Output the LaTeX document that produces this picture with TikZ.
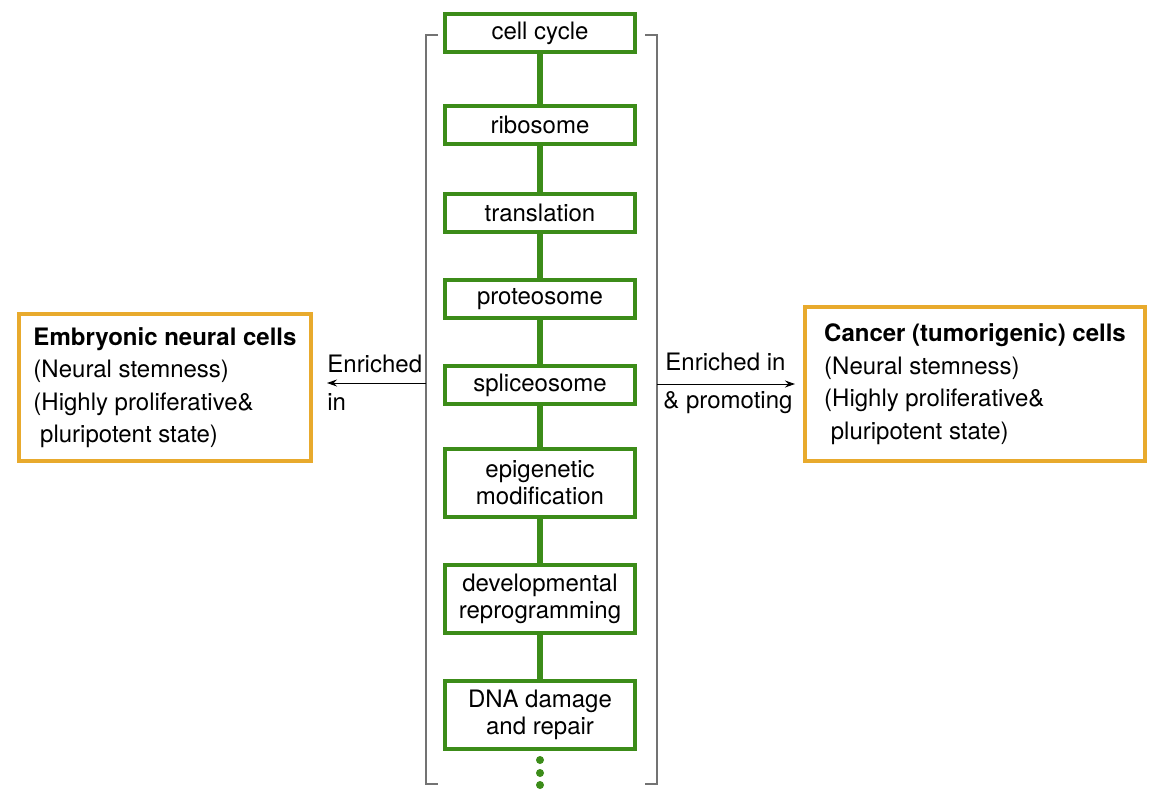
\documentclass[tikz,border=0pt]{standalone}
\usepackage{fontspec}
\setmainfont{TeX Gyre Heros}
\usetikzlibrary{arrows.meta}
\definecolor{pathgreen}{RGB}{60,140,25}
\definecolor{cellorange}{RGB}{232,170,45}

\begin{document}
\begin{tikzpicture}[x=0.5pt,y=-0.5pt,
        pathbox/.style={draw=pathgreen, line width=2pt, minimum width=95pt, minimum height=19pt, align=center, font=\fontsize{12}{13.5}\selectfont},
        tallbox/.style={pathbox, minimum height=34pt},
        cellbox/.style={draw=cellorange, line width=2pt, align=left, font=\fontsize{12}{16.25}\selectfont},
        link/.style={pathgreen, line width=3pt},
        brack/.style={black!55, line width=0.7pt},
        arr/.style={-{Stealth[length=5pt,width=3.5pt]}, line width=0.5pt},
        lbl/.style={anchor=base west, inner sep=0pt, font=\fontsize{12}{14}\selectfont}]
        \useasboundingbox (0,0) rectangle (1172,804);
        % pathways
        \node[pathbox] (cyc) at (540,33) {cell cycle};
        \node[pathbox] (rib) at (540,125) {ribosome};
        \node[pathbox] (tra) at (540,212.5) {translation};
        \node[pathbox] (pro) at (540,299) {proteosome};
        \node[pathbox] (spl) at (540,385) {spliceosome};
        \node[tallbox] (epi) at (540,482.5) {epigenetic\\modification};
        \node[tallbox] (dev) at (540,599) {developmental\\reprogramming};
        \node[tallbox] (dna) at (540,714.5) {DNA damage\\and repair};
        \foreach \a/\b in {cyc/rib, rib/tra, tra/pro, pro/spl, spl/epi, epi/dev, dev/dna}
            \draw[link] (\a) -- (\b);
        \foreach \y in {760,773,785}
            \fill[pathgreen] (540,\y) circle (2pt);
        % brackets
        \draw[brack] (438,35) -| (426,784) -- (438,784);
        \draw[brack] (645,35) -| (657,784) -- (645,784);
        % cell types
        \node[cellbox, minimum width=146pt, minimum height=73.5pt] (embryo) at (165,387.5)
            {\textbf{Embryonic neural cells}\\(Neural stemness)\\(Highly proliferative\&\\\hspace*{0.28em}pluripotent state)};
        \node[cellbox, minimum width=170pt, minimum height=77pt] (cancer) at (975,384)
            {\textbf{Cancer (tumorigenic) cells}\\(Neural stemness)\\(Highly proliferative\&\\\hspace*{0.28em}pluripotent state)};
        \coordinate (lout) at (426,383);
        \coordinate (rout) at (657,384);
        \draw[arr] (lout) -- ([xshift=7pt]embryo.east |- lout);
        \draw[arr] (rout) -- ([xshift=-4pt]cancer.west |- rout);
        \node[lbl] (lup) at (327,372) {Enriched};
        \node[lbl] (ldown) at (327,410) {in};
        \node[lbl] (rup) at (665,370) {Enriched in};
        \node[lbl] (rdown) at (663,408) {\& promoting};
\end{tikzpicture}
\end{document}
